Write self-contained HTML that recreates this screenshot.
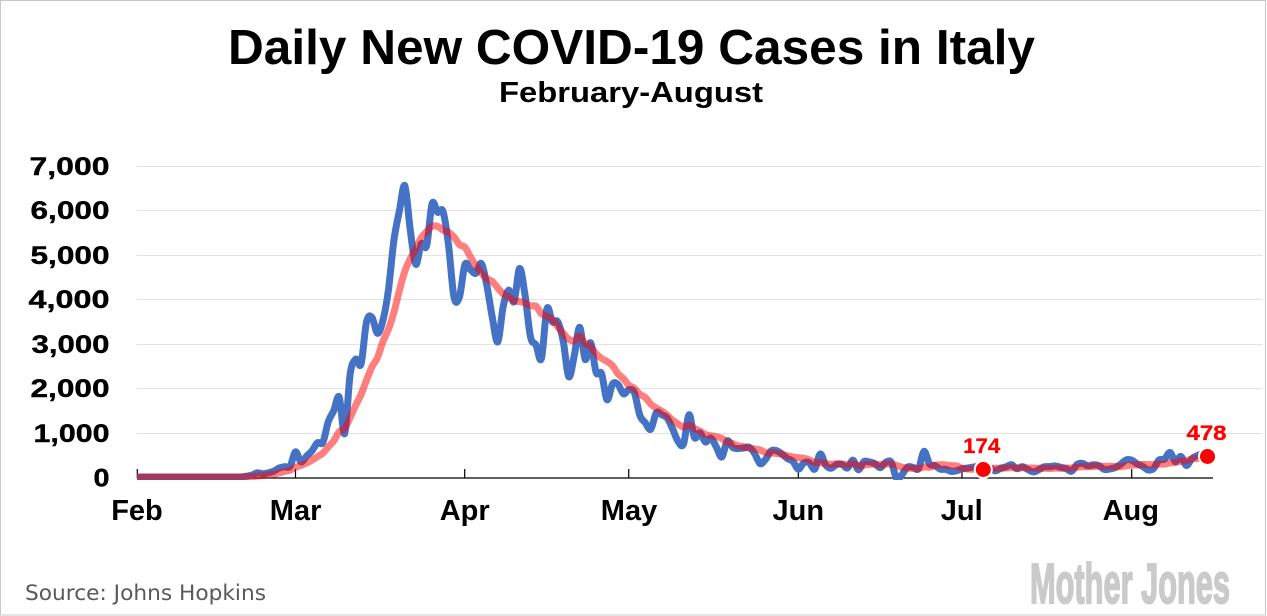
<!DOCTYPE html>
<html>
<head>
<meta charset="utf-8">
<style>
html,body{margin:0;padding:0;background:#fff;}
svg{display:block;}
</style>
</head>
<body>
<svg id="chart" width="1267" height="616" viewBox="0 0 1267 616" xmlns="http://www.w3.org/2000/svg">
<defs>
<clipPath id="plotclip"><rect x="130" y="100" width="1120" height="380"/></clipPath>
</defs>
<rect x="0" y="0" width="1267" height="616" fill="#fff"/>
<rect x="0.5" y="0.5" width="1265" height="614.5" fill="none" stroke="#c8c8c8" stroke-width="1"/>

<text x="228" y="64" font-family="Liberation Sans, sans-serif" font-weight="bold" font-size="49" textLength="807" lengthAdjust="spacingAndGlyphs" fill="#000">Daily New COVID-19 Cases in Italy</text>
<text x="499" y="102" font-family="Liberation Sans, sans-serif" font-weight="bold" font-size="29" textLength="264" lengthAdjust="spacingAndGlyphs" fill="#000">February-August</text>

<g stroke="#e3e3e3" stroke-width="1">
<line x1="137" y1="166.5" x2="1262" y2="166.5"/>
<line x1="137" y1="210.5" x2="1262" y2="210.5"/>
<line x1="137" y1="255.5" x2="1262" y2="255.5"/>
<line x1="137" y1="299.5" x2="1262" y2="299.5"/>
<line x1="137" y1="344.5" x2="1262" y2="344.5"/>
<line x1="137" y1="388.5" x2="1262" y2="388.5"/>
<line x1="137" y1="433.5" x2="1262" y2="433.5"/>
</g>

<g font-family="Liberation Sans, sans-serif" font-weight="bold" font-size="25" fill="#000" text-anchor="end" stroke="#000" stroke-width="0.4">
<text x="109.5" y="175" textLength="80" lengthAdjust="spacingAndGlyphs">7,000</text>
<text x="109.5" y="219" textLength="79" lengthAdjust="spacingAndGlyphs">6,000</text>
<text x="109.5" y="264" textLength="79" lengthAdjust="spacingAndGlyphs">5,000</text>
<text x="109.5" y="308" textLength="81" lengthAdjust="spacingAndGlyphs">4,000</text>
<text x="109.5" y="353" textLength="78" lengthAdjust="spacingAndGlyphs">3,000</text>
<text x="109.5" y="397" textLength="79" lengthAdjust="spacingAndGlyphs">2,000</text>
<text x="109.5" y="442" textLength="76" lengthAdjust="spacingAndGlyphs">1,000</text>
<text x="109.5" y="486.5" textLength="16" lengthAdjust="spacingAndGlyphs">0</text>
</g>

<g stroke="#000" stroke-width="1.2">
<line x1="137" y1="478" x2="1213" y2="478"/>
<line x1="137.3" y1="469" x2="137.3" y2="478"/>
<line x1="295.5" y1="469" x2="295.5" y2="478"/>
<line x1="464.7" y1="469" x2="464.7" y2="478"/>
<line x1="628.7" y1="469" x2="628.7" y2="478"/>
<line x1="798.3" y1="469" x2="798.3" y2="478"/>
<line x1="962" y1="469" x2="962" y2="478"/>
<line x1="1131.7" y1="469" x2="1131.7" y2="478"/>
</g>

<g font-family="Liberation Sans, sans-serif" font-weight="bold" font-size="29" fill="#000" text-anchor="middle">
<text x="137" y="520">Feb</text>
<text x="295.6" y="520">Mar</text>
<text x="464.7" y="520">Apr</text>
<text x="629" y="520">May</text>
<text x="798.3" y="520">Jun</text>
<text x="961.7" y="520">Jul</text>
<text x="1130.8" y="520">Aug</text>
</g>

<g clip-path="url(#plotclip)">
<path id="blue" d="" fill="none" stroke="#4472C4" stroke-width="7" stroke-linejoin="round" stroke-linecap="butt"/>
<path id="red" d="" fill="none" stroke="#ff0000" stroke-opacity="0.5" stroke-width="7" stroke-linejoin="round" stroke-linecap="butt"/>
</g>

<circle cx="983.3" cy="469.5" r="8.5" fill="#ff0000" stroke="#fff" stroke-width="2"/>
<circle cx="1207.5" cy="456.5" r="8.5" fill="#ff0000" stroke="#fff" stroke-width="2"/>
<g font-family="Liberation Sans, sans-serif" font-weight="bold" font-size="21" fill="#ff0000" text-anchor="middle" stroke="#ff0000" stroke-width="0.3">
<text x="981.7" y="453" textLength="37" lengthAdjust="spacingAndGlyphs">174</text>
<text x="1206.5" y="440" textLength="40" lengthAdjust="spacingAndGlyphs">478</text>
</g>

<text x="25" y="600" font-family="DejaVu Sans, Liberation Sans, sans-serif" font-size="21" textLength="241" lengthAdjust="spacingAndGlyphs" fill="#595959">Source: Johns Hopkins</text>
<text x="1030" y="603" font-family="Liberation Sans, sans-serif" font-weight="bold" font-size="57" textLength="200" lengthAdjust="spacingAndGlyphs" fill="#cacaca" stroke="#cacaca" stroke-width="2">Mother Jones</text>
</svg>
<script>
(function(){
var feb=[];for(var i=0;i<20;i++)feb.push(0);
feb=feb.concat([17,42,93,74,93,131,202,233,240]);
var mar=[566,342,466,587,769,778,1247,1492,1797,977,2313,2651,2547,3497,3590,3233,3526,4207,5322,5986,6557,5560,4789,5249,5210,6153,5959,5974,5217,4050,4053];
var apr=[4782,4668,4585,4805,4316,3599,3039,3836,4204,3951,4694,4092,3153,2972,2667,3786,3493,3491,3047,2256,2729,3370,2646,3021,2357,2324,1739,2091,2086,1872];
var may=[1965,1900,1389,1221,1075,1444,1401,1327,1083,802,744,1402,888,992,789,875,675,451,813,665,642,652,669,531,300,397,584,593,516,416,355];
var jun=[178,318,321,177,518,270,197,280,283,202,379,163,346,338,301,210,329,333,-40,60,224,218,190,577,296,259,175,174,126,142];
var jul=[187,201,223,235,192,208,138,193,229,276,188,234,169,114,163,230,233,249,219,190,129,282,306,252,275,255,170,181,212,289,386];
var aug=[379,295,239,159,190,384,402,552,347,463,259,412,481,523,574];
var data=feb.concat(mar,apr,may,jun,jul,aug);
var X0=137,DX=5.4654,Y0=477,SY=0.04443;
function px(i){return X0+i*DX;}
function py(v){return Y0-v*SY;}
function build(vals){
  var pts=vals.map(function(v,i){return [px(i),py(v)];});
  var d="M"+pts[0][0].toFixed(2)+","+pts[0][1].toFixed(2);
  for(var i=0;i<pts.length-1;i++){
    var p0=pts[i-1]||pts[i],p1=pts[i],p2=pts[i+1],p3=pts[i+2]||p2;
    var c1x=p1[0]+(p2[0]-p0[0])/6,c1y=p1[1]+(p2[1]-p0[1])/6;
    var c2x=p2[0]-(p3[0]-p1[0])/6,c2y=p2[1]-(p3[1]-p1[1])/6;
    d+="C"+c1x.toFixed(2)+","+c1y.toFixed(2)+" "+c2x.toFixed(2)+","+c2y.toFixed(2)+" "+p2[0].toFixed(2)+","+p2[1].toFixed(2);
  }
  return d;
}
var avg=[];
for(var i=0;i<data.length;i++){
  var s=0;for(var j=Math.max(0,i-6);j<=i;j++)s+=data[j];
  avg.push(s/7);
}
avg[avg.length-1]=478;
avg[avg.length-2]=(avg[avg.length-2]+avg[avg.length-1]+avg[avg.length-3])/3;
document.getElementById("blue").setAttribute("d",build(data));
document.getElementById("red").setAttribute("d",build(avg));
})();
</script>
</body>
</html>
